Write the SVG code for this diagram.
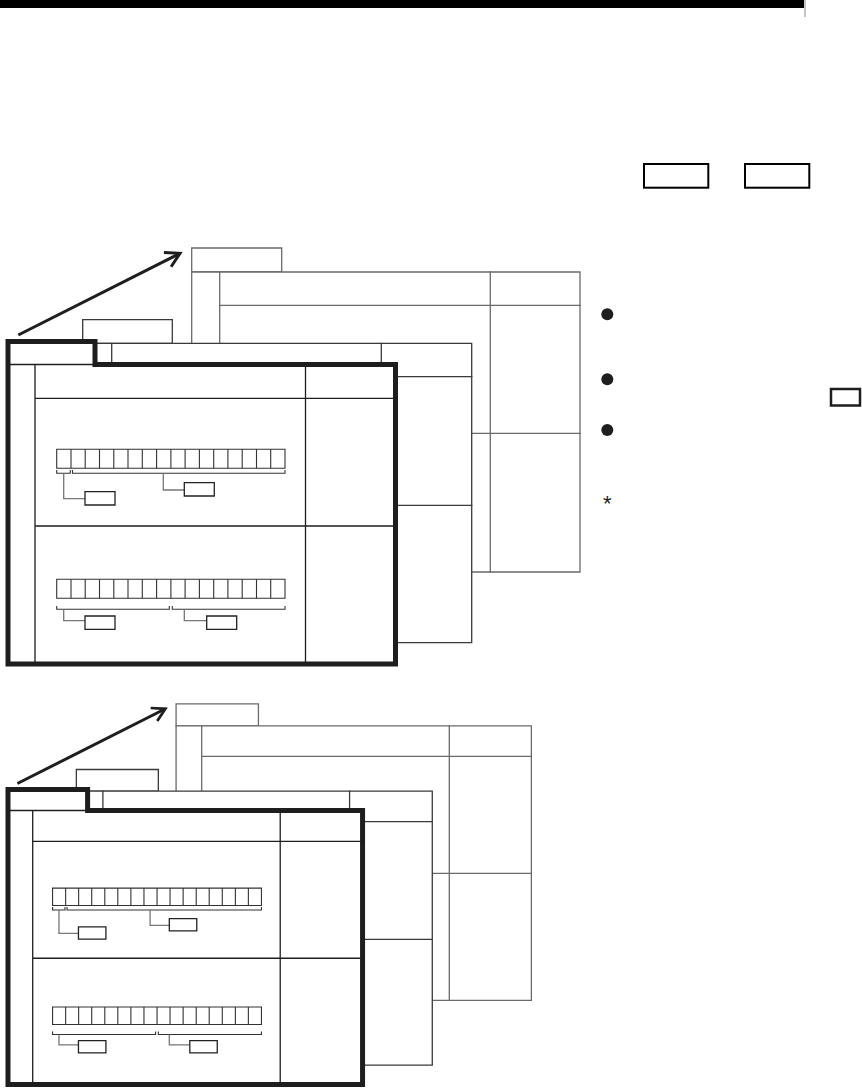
<svg xmlns="http://www.w3.org/2000/svg" width="862" height="1089" viewBox="0 0 862 1089">
<style>
.ln{fill:none;stroke-linecap:square;vector-effect:non-scaling-stroke}
.bk{stroke:#6a6a6a;stroke-width:1.3}
.md{stroke:#3a3a3a;stroke-width:1.3}
.fr{stroke:#1e1e1e;stroke-width:1.3}
.card{fill:#fff}
.thick{fill:#fff;stroke:#1e1e1e;stroke-width:5;stroke-linejoin:miter;vector-effect:non-scaling-stroke}
.bit{fill:none;stroke:#333;stroke-width:1.1;vector-effect:non-scaling-stroke}
.lead{fill:none;stroke:#777;stroke-width:1.3;vector-effect:non-scaling-stroke}
.lbl{fill:#fff;stroke:#222;stroke-width:1.3;vector-effect:non-scaling-stroke}
.arr{fill:none;stroke:#1e1e1e;stroke-width:3;vector-effect:non-scaling-stroke}
.hbox{fill:#fff;stroke:#000;stroke-width:2}
.dot{fill:#1e1e1e}
</style>
<defs>
<marker id="ah" markerUnits="userSpaceOnUse" viewBox="-1 -10 18 20" refX="14" refY="0" markerWidth="18" markerHeight="20" orient="auto">
<path d="M0,-8 L14,0 L0,8" fill="none" stroke="#1e1e1e" stroke-width="3"/>
</marker>
<g id="fig">
<!-- arrow -->
<g id="arrow"><path class="arr" d="M18.3,335 L180,253.3" marker-end="url(#ah)"/></g>
<!-- back card -->
<g id="back-card">
<rect class="card ln bk" x="191.7" y="248" width="90" height="24"/>
<rect class="card ln bk" x="191.7" y="272" width="388.3" height="300"/>
<path class="ln bk" d="M219.7,272 V572 M219.7,305.3 H580 M490.3,272 V572 M219.7,433.3 H580"/>
</g>
<!-- middle card -->
<g id="middle-card">
<rect class="card ln md" x="82.7" y="319.7" width="89.6" height="23.6"/>
<rect class="card ln md" x="82.7" y="343.3" width="389" height="299.4"/>
<path class="ln md" d="M111.7,343.3 V642.7 M111.7,376.7 H471.7 M381.3,343.3 V642.7 M111.7,505.3 H471.7"/>
</g>
<!-- front card -->
<g id="front-card">
<path class="thick" d="M8,341.5 H95 V364.5 H395.5 V664 H8 Z"/>
<path class="ln fr" d="M8,364.5 H95 M35,364.5 V664 M35,398.3 H395.5 M305.5,364.5 V664 M35,526 H395.5"/>
</g>
<!-- bit field 1 -->
<g id="bits-1">
<rect class="bit" x="56.7" y="449.3" width="228.3" height="19"/>
<path class="bit" d="M71,449.3V468.3 M85.2,449.3V468.3 M99.5,449.3V468.3 M113.8,449.3V468.3 M128,449.3V468.3 M142.3,449.3V468.3 M156.6,449.3V468.3 M170.9,449.3V468.3 M185.1,449.3V468.3 M199.4,449.3V468.3 M213.7,449.3V468.3 M227.9,449.3V468.3 M242.2,449.3V468.3 M256.5,449.3V468.3 M270.7,449.3V468.3"/>
<path class="bit" d="M56.7,470 V473.3 H70.3 V470 M72.5,470 V473.3 H285 V470"/>
<path class="lead" d="M63.7,473.3 V498.7 H85 M163.3,473.3 V490 H184.3"/>
<rect class="lbl" x="85" y="491.7" width="30" height="13.3"/>
<rect class="lbl" x="184.3" y="482.7" width="30" height="13.3"/>
</g>
<!-- bit field 2 -->
<g id="bits-2">
<rect class="bit" x="56.7" y="579.3" width="228.3" height="19"/>
<path class="bit" d="M71,579.3V598.3 M85.2,579.3V598.3 M99.5,579.3V598.3 M113.8,579.3V598.3 M128,579.3V598.3 M142.3,579.3V598.3 M156.6,579.3V598.3 M170.9,579.3V598.3 M185.1,579.3V598.3 M199.4,579.3V598.3 M213.7,579.3V598.3 M227.9,579.3V598.3 M242.2,579.3V598.3 M256.5,579.3V598.3 M270.7,579.3V598.3"/>
<path class="bit" d="M56.7,606 V609.3 H169.3 V606 M172.3,606 V609.3 H285 V606"/>
<path class="lead" d="M63.7,609.3 V620.7 H85 M184.3,609.3 V620.7 H206.7"/>
<rect class="lbl" x="85" y="616" width="30" height="13.3"/>
<rect class="lbl" x="206.7" y="616" width="30" height="13.3"/>
</g>
</g>
</defs>

<!-- page header -->
<g id="page-header">
<rect x="0" y="0" width="804" height="8" fill="#000"/>
<line x1="805" y1="0" x2="805" y2="17" stroke="#888" stroke-width="1"/>
</g>
<g id="header-key-1"><rect class="hbox" x="644" y="164" width="64.3" height="23.7"/></g>
<g id="header-key-2"><rect class="hbox" x="745" y="164" width="64.3" height="23.7"/></g>

<!-- figure 1 -->
<g id="figure-1"><use href="#fig"/></g>

<!-- notes beside figure 1 -->
<g id="notes">
<circle class="dot" cx="607.3" cy="314.3" r="6"/>
<circle class="dot" cx="607.3" cy="379.3" r="6"/>
<circle class="dot" cx="607.3" cy="430" r="6"/>
<text x="607.3" y="511" font-family="'Liberation Sans', Arial, sans-serif" font-size="22" text-anchor="middle" fill="#1e1e1e">*</text>
<rect x="831" y="389" width="29" height="16.5" fill="#fff" stroke="#1e1e1e" stroke-width="2.5"/>
</g>

<!-- figure 2 -->
<g id="figure-2"><use href="#fig" transform="matrix(0.915 0 0 0.915 0.68 476.985)"/></g>
</svg>
